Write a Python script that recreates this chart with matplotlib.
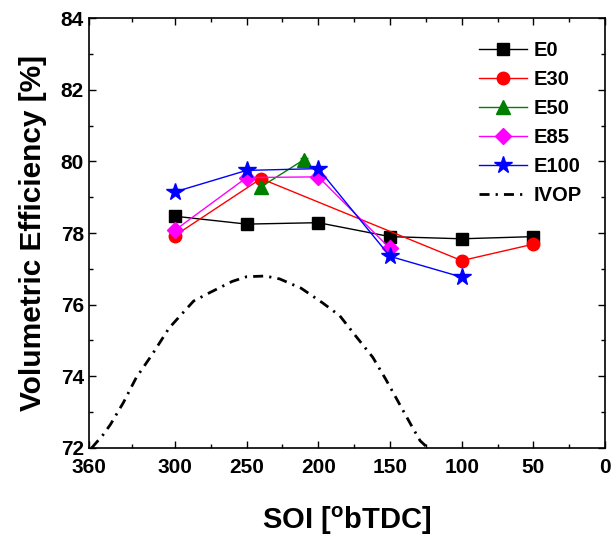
import matplotlib
matplotlib.use('Agg')
import matplotlib.pyplot as plt
from matplotlib.lines import Line2D
from matplotlib.ticker import FixedLocator, MultipleLocator

plt.rcParams['font.family'] = ['Liberation Sans', 'DejaVu Sans']
plt.rcParams['font.weight'] = 'bold'

# data
soi_e0 = [300, 250, 200, 150, 100, 50]
ve_e0 = [78.47, 78.25, 78.29, 77.90, 77.84, 77.90]
err_e0 = [0.05, 0.10, 0.05, 0.05, 0.08, 0.05]

soi_e30 = [300, 240, 100, 50]
ve_e30 = [77.93, 79.52, 77.23, 77.69]
err_e30 = [0.05, 0.08, 0.12, 0.05]

soi_e50 = [240, 210]
ve_e50 = [79.29, 80.05]
err_e50 = [0.15, 0.05]

soi_e85 = [300, 250, 200, 150]
ve_e85 = [78.08, 79.55, 79.57, 77.57]
err_e85 = [0.05, 0.05, 0.05, 0.05]

soi_e100 = [300, 250, 200, 150, 100]
ve_e100 = [79.15, 79.75, 79.80, 77.35, 76.77]
err_e100 = [0.08, 0.05, 0.05, 0.05, 0.05]

ivop_soi = [358, 350, 345, 336, 327, 316, 304, 287, 276, 260, 250, 237,
            227, 212, 197, 185, 174, 162, 153, 144, 135, 129, 125, 118]
ivop_ve = [72.0, 72.37, 72.65, 73.26, 73.96, 74.6, 75.35, 76.1, 76.33, 76.65,
           76.78, 76.8, 76.72, 76.46, 76.05, 75.69, 75.13, 74.53, 73.92, 73.27,
           72.62, 72.2, 72.05, 71.9]

fig = plt.figure(figsize=(6.13, 5.37), dpi=100)
ax = fig.add_axes([0.145, 0.166, 0.842, 0.80])

series = [
    (soi_e0, ve_e0, err_e0, 'black', 's', 8, 'E0'),
    (soi_e30, ve_e30, err_e30, 'red', 'o', 9, 'E30'),
    (soi_e50, ve_e50, err_e50, 'green', '^', 10, 'E50'),
    (soi_e85, ve_e85, err_e85, 'magenta', 'D', 8, 'E85'),
    (soi_e100, ve_e100, err_e100, 'blue', '*', 13, 'E100'),
]
handles = []
for x, y, e, c, m, ms, lab in series:
    ax.errorbar(x, y, yerr=e, color=c, marker=m, markersize=ms, linewidth=1,
                elinewidth=1, capsize=3)
    handles.append(Line2D([], [], color=c, marker=m, markersize=ms,
                          linewidth=1, label=lab))

ivop_line, = ax.plot(ivop_soi, ivop_ve, color='black', linewidth=2,
                     dashes=(3.6, 2.2, 0.8, 2.2), label='IVOP')
handles.append(ivop_line)

ax.set_xlim(360, 0)
ax.set_ylim(72, 84)
ax.xaxis.set_major_locator(FixedLocator([360, 300, 250, 200, 150, 100, 50, 0]))
ax.xaxis.set_minor_locator(FixedLocator([330, 275, 225, 175, 125, 75, 25]))
ax.yaxis.set_major_locator(MultipleLocator(2))
ax.yaxis.set_minor_locator(MultipleLocator(1))
ax.tick_params(which='both', direction='in', top=True, right=True, labelsize=15,
               width=1)
ax.tick_params(which='major', length=5)
ax.tick_params(which='minor', length=3)
ax.tick_params(axis='x', pad=7)
for s in ax.spines.values():
    s.set_linewidth(1.2)

ax.set_xlabel('SOI [$\\mathregular{^o}$bTDC]', fontsize=21, fontweight='bold',
              labelpad=20)
ax.set_ylabel('Volumetric Efficiency [%]', fontsize=21.5, fontweight='bold',
              labelpad=10)

ax.legend(handles=handles, loc='upper right', bbox_to_anchor=(0.99, 0.99),
          frameon=False, fontsize=14.5, handlelength=2.4, labelspacing=0.5,
          handletextpad=0.3)

fig.savefig('out.png', dpi=100)
